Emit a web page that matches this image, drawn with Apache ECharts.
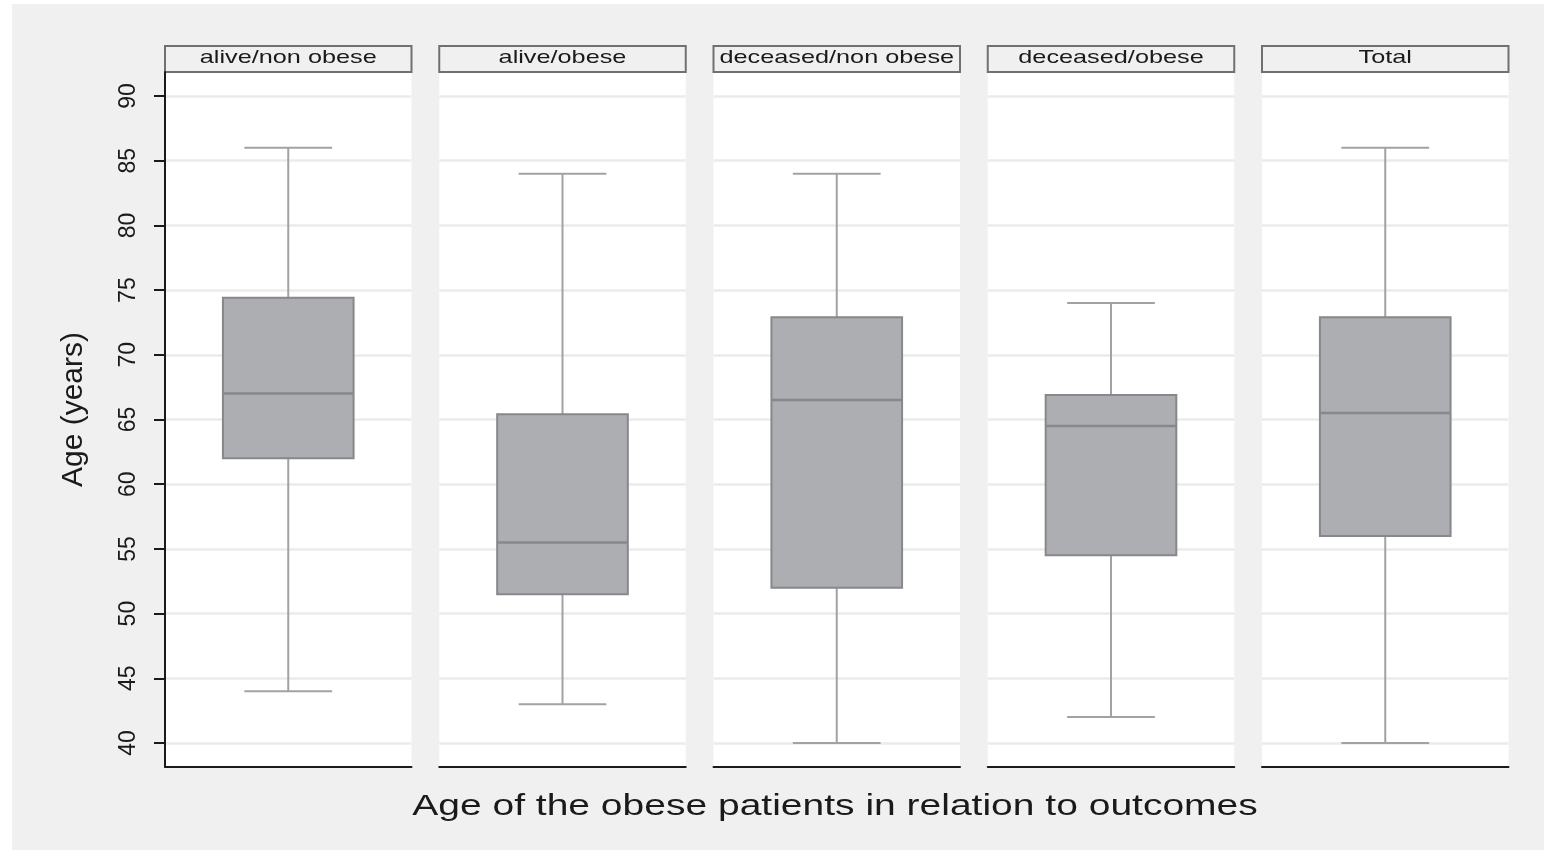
<!DOCTYPE html>
<html>
<head>
<meta charset="utf-8">
<script src="https://cdn.jsdelivr.net/npm/echarts@6/dist/echarts.min.js"></script>
<style>
  html, body { margin: 0; padding: 0; background: #f0f0f0; overflow: hidden; }
  #chart { width: 1544px; height: 850px; }
</style>
</head>
<body>
<div id="chart"></div>
<script>
// panels (one box per panel)
const categories = ['alive/non obese', 'alive/obese', 'deceased/non obese', 'deceased/obese', 'Total']
const lowWhisker = [44, 43, 40, 42, 40]
const q1 = [62, 51.5, 52, 54.5, 56]
const median = [67, 55.5, 66.5, 64.5, 65.5]
const q3 = [74.4, 65.4, 72.9, 66.9, 72.9]
const highWhisker = [86, 84, 84, 74, 86]
const yTicks = [40, 45, 50, 55, 60, 65, 70, 75, 80, 85, 90]

const yTitle = 'Age (years)'
const xTitle = 'Age of the obese patients in relation to outcomes'

const FONT = '"Liberation Sans", Arial, sans-serif'
const panelLeft = 165
const panelStep = 274.25
const panelWidth = 246.5
const plotTop = 72
const plotBottom = 767
const stretch = 1.3

const chart = echarts.init(document.getElementById('chart'))

function renderBox(params, api) {
  const cx = api.coord([api.value(0), api.value(1)])[0]
  const band = api.size([1, 0])[0]
  const boxHalf = band * 0.265
  const capHalf = band * 0.178
  const yOf = (i) => api.coord([api.value(0), api.value(i)])[1]
  const yLow = yOf(1), yQ1 = yOf(2), yMed = yOf(3), yQ3 = yOf(4), yHigh = yOf(5)
  const whisker = { stroke: '#a2a2a5', lineWidth: 2 }
  const edge = '#87888b'
  return {
    type: 'group',
    children: [
      { type: 'line', shape: { x1: cx, y1: yQ1, x2: cx, y2: yLow }, style: whisker },
      { type: 'line', shape: { x1: cx - capHalf, y1: yLow, x2: cx + capHalf, y2: yLow }, style: whisker },
      { type: 'line', shape: { x1: cx, y1: yQ3, x2: cx, y2: yHigh }, style: whisker },
      { type: 'line', shape: { x1: cx - capHalf, y1: yHigh, x2: cx + capHalf, y2: yHigh }, style: whisker },
      {
        type: 'rect',
        shape: { x: cx - boxHalf, y: yQ3, width: boxHalf * 2, height: yQ1 - yQ3 },
        style: { fill: '#adaeb1', stroke: edge, lineWidth: 2 }
      },
      { type: 'line', shape: { x1: cx - boxHalf, y1: yMed, x2: cx + boxHalf, y2: yMed }, style: { stroke: edge, lineWidth: 2.5 } }
    ]
  }
}

const grids = []
const xAxes = []
const yAxes = []
const series = []
const graphics = [
  { type: 'rect', shape: { x: 0, y: 0, width: 1544, height: 4 }, style: { fill: '#fff' } },
  { type: 'rect', shape: { x: 0, y: 0, width: 12, height: 850 }, style: { fill: '#fff' } }
]

categories.forEach((name, i) => {
  const left = panelLeft + i * panelStep
  grids.push({
    left: left,
    width: panelWidth,
    top: plotTop,
    bottom: 850 - plotBottom,
    show: true,
    backgroundColor: '#fff',
    borderWidth: 0
  })
  xAxes.push({
    type: 'category',
    gridIndex: i,
    data: [name],
    axisLine: { show: true, lineStyle: { color: '#1a1a1a', width: 2 } },
    axisTick: { show: false },
    axisLabel: { show: false },
    splitLine: { show: false }
  })
  yAxes.push({
    type: 'value',
    gridIndex: i,
    min: 38.145,
    max: 91.855,
    name: i === 0 ? yTitle : '',
    nameLocation: 'middle',
    nameRotate: 90,
    nameGap: 76,
    nameTextStyle: { fontFamily: FONT, fontSize: 30, color: '#1a1a1a', padding: [0, 0, 0, 20] },
    axisLine: { show: i === 0, lineStyle: { color: '#1a1a1a', width: 2 } },
    axisTick: { show: i === 0, length: 11, customValues: yTicks, lineStyle: { color: '#1a1a1a', width: 2 } },
    axisLabel: {
      show: i === 0,
      customValues: yTicks,
      rotate: 90,
      margin: 25,
      fontFamily: FONT,
      fontSize: 23,
      color: '#1a1a1a'
    },
    splitLine: { show: true, lineStyle: { color: '#ebebeb', width: 2.5 } }
  })
  series.push({
    type: 'custom',
    name: name,
    xAxisIndex: i,
    yAxisIndex: i,
    renderItem: renderBox,
    encode: { x: 0, y: [1, 2, 3, 4, 5] },
    data: [[0, lowWhisker[i], q1[i], median[i], q3[i], highWhisker[i]]],
    z: 3
  })
  graphics.push({
    type: 'group',
    children: [
      {
        type: 'rect',
        shape: { x: left, y: 46, width: panelWidth, height: 26 },
        style: { fill: '#f0f0f0', stroke: '#707070', lineWidth: 2 }
      },
      {
        type: 'text',
        x: left + panelWidth / 2,
        y: 58,
        scaleX: 1.33,
        style: {
          text: name,
          align: 'center',
          verticalAlign: 'middle',
          font: '19px ' + FONT,
          fill: '#1a1a1a'
        }
      }
    ]
  })
})

graphics.push({
  type: 'text',
  x: 835,
  y: 807,
  scaleX: stretch,
  style: {
    text: xTitle,
    align: 'center',
    verticalAlign: 'middle',
    font: '30px ' + FONT,
    fill: '#1a1a1a'
  }
})

chart.setOption({
  backgroundColor: '#f0f0f0',
  animation: false,
  grid: grids,
  xAxis: xAxes,
  yAxis: yAxes,
  graphic: graphics,
  series: series
})
</script>
</body>
</html>
